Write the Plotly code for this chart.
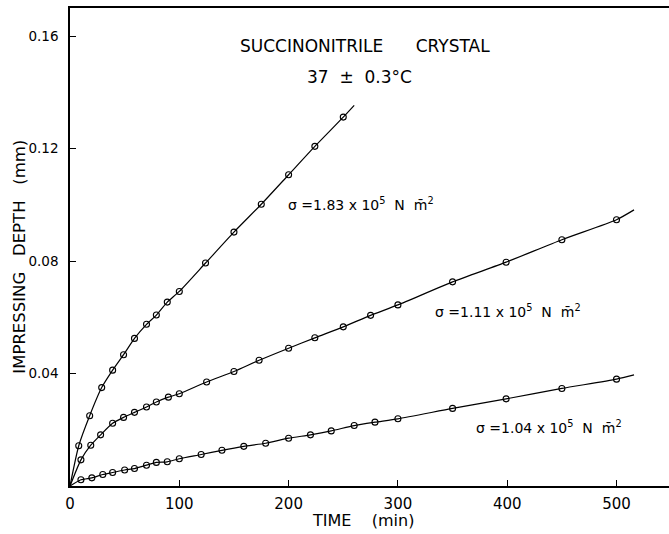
import plotly.graph_objects as go

# Time (min) and impressing depth (mm) for each applied stress
t_183 = [8, 18, 29, 39, 49, 59, 70, 79, 89, 100, 124, 150, 175, 200, 224, 250]
d_183 = [0.0143, 0.0250, 0.0350, 0.0412, 0.0467, 0.0525, 0.0575, 0.0608, 0.0654,
         0.0692, 0.0793, 0.0903, 0.1002, 0.1107, 0.1208, 0.1312]

t_111 = [10, 19, 28, 39, 49, 59, 70, 79, 90, 100, 125, 150, 173, 200, 224, 250,
         275, 300, 350, 399, 450, 500]
d_111 = [0.0093, 0.0145, 0.0182, 0.0223, 0.0244, 0.0262, 0.0281, 0.0299, 0.0316,
         0.0328, 0.0370, 0.0407, 0.0447, 0.0490, 0.0527, 0.0566, 0.0607, 0.0644,
         0.0726, 0.0796, 0.0876, 0.0947]

t_104 = [10, 20, 30, 39, 50, 59, 70, 79, 89, 100, 120, 139, 159, 179, 200, 220,
         239, 260, 279, 300, 350, 399, 450, 500]
d_104 = [0.0022, 0.0029, 0.0041, 0.0048, 0.0057, 0.0062, 0.0074, 0.0084, 0.0086,
         0.0097, 0.0112, 0.0127, 0.0141, 0.0152, 0.0170, 0.0182, 0.0196, 0.0215,
         0.0227, 0.0239, 0.0276, 0.0310, 0.0347, 0.0380]

# Where each hand-drawn fit curve stops beyond the last measurement
fit_end_183 = (260, 0.1354)
fit_end_111 = (516, 0.0982)
fit_end_104 = (516, 0.0395)

labels = [
    ("σ =1.83 x 10<sup>5</sup>  N  m\u0304<sup>2</sup>", 198, 0.1004),
    ("σ =1.11 x 10<sup>5</sup>  N  m\u0304<sup>2</sup>", 332, 0.0621),
    ("σ =1.04 x 10<sup>5</sup>  N  m\u0304<sup>2</sup>", 370, 0.0210),
]

x_ticks = [0, 100, 200, 300, 400, 500]
y_ticks = [0.04, 0.08, 0.12, 0.16]
y_tick_text = ["0.04", "0.08", "0.12", "0.16"]

FONT = "DejaVu Sans, Liberation Sans, sans-serif"

fig = go.Figure()

for t, d, end in [(t_183, d_183, fit_end_183),
                  (t_111, d_111, fit_end_111),
                  (t_104, d_104, fit_end_104)]:
    fig.add_trace(go.Scatter(
        x=[0] + t + [end[0]], y=[0] + d + [end[1]],
        mode="lines", line=dict(color="black", width=1.2, shape="spline", smoothing=0.6),
        hoverinfo="skip", showlegend=False))
    fig.add_trace(go.Scatter(
        x=t, y=d, mode="markers",
        marker=dict(symbol="circle-open", size=6, color="black", line=dict(width=1.1)),
        showlegend=False))

annotations = [
    dict(text="SUCCINONITRILE      CRYSTAL", x=270, y=0.1564, xref="x", yref="y",
         xanchor="center", yanchor="middle", showarrow=False,
         font=dict(size=17, family=FONT, color="black")),
    dict(text="37  ±  0.3°C", x=265, y=0.1454, xref="x", yref="y",
         xanchor="center", yanchor="middle", showarrow=False,
         font=dict(size=17, family=FONT, color="black")),
    dict(text="IMPRESSING   DEPTH   (mm)", x=-0.085, y=0.48, xref="paper", yref="paper",
         xanchor="center", yanchor="middle", textangle=-90, showarrow=False,
         font=dict(size=16.5, family=FONT, color="black")),
    dict(text="TIME    (min)", x=0.489, y=-0.073, xref="paper", yref="paper",
         xanchor="center", yanchor="middle", showarrow=False,
         font=dict(size=16, family=FONT, color="black")),
]
for txt, x, y in labels:
    annotations.append(dict(text=txt, x=x, y=y, xref="x", yref="y",
                            xanchor="left", yanchor="middle", showarrow=False,
                            font=dict(size=14, family=FONT, color="black")))

fig.update_layout(
    width=669, height=534,
    margin=dict(l=70, r=0, t=8, b=48),
    paper_bgcolor="white", plot_bgcolor="white",
    font=dict(family=FONT, color="black"),
    annotations=annotations,
    xaxis=dict(range=[0, 548], tickvals=x_ticks, ticks="inside", ticklen=6,
               tickwidth=1.2, tickcolor="black", showgrid=False, zeroline=False,
               showline=True, linecolor="black", linewidth=1.5, mirror=True,
               tickfont=dict(size=15, family=FONT), ticklabelstandoff=3),
    yaxis=dict(range=[0, 0.17], tickvals=y_ticks, ticktext=y_tick_text,
               ticks="inside", ticklen=6, tickwidth=1.2, tickcolor="black",
               showgrid=False, zeroline=False, showline=True, linecolor="black",
               linewidth=1.5, tickfont=dict(size=13.5, family=FONT), ticklabelstandoff=7),
)

fig.write_html("out.html")
